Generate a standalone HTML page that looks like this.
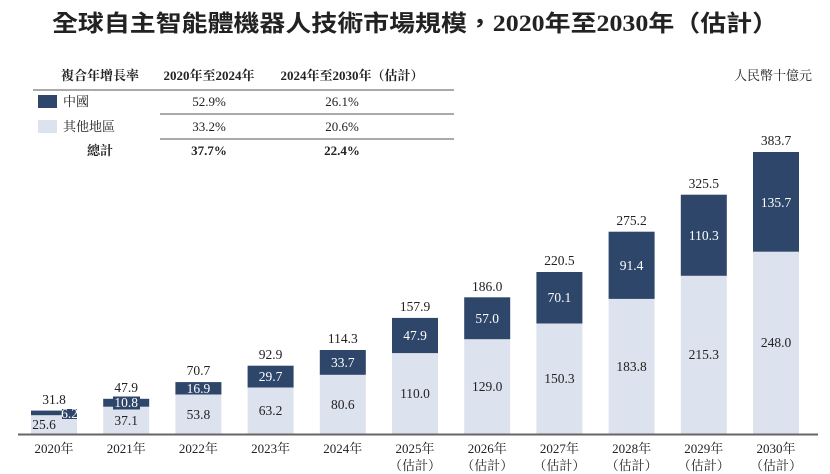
<!DOCTYPE html>
<html><head><meta charset="utf-8"><style>
body{margin:0;background:#fff;}
svg{display:block;font-family:"Liberation Serif","Noto Serif CJK SC","Noto Sans CJK TC",serif;}
</style></head><body>
<svg width="830" height="474" viewBox="0 0 830 474" xmlns="http://www.w3.org/2000/svg">
<text x="415" y="31" text-anchor="middle" font-size="23" font-weight="bold" fill="#222" textLength="726" lengthAdjust="spacingAndGlyphs" style="font-family:'Liberation Serif','Noto Sans CJK TC',sans-serif">全球自主智能體機器人技術市場規模，2020年至2030年（估計）</text>
<!-- table -->
<g font-size="13" fill="#222">
<text x="100" y="80" text-anchor="middle" font-weight="bold">複合年增長率</text>
<text x="209" y="80" text-anchor="middle" font-weight="bold">2020年至2024年</text>
<text x="352" y="80" text-anchor="middle" font-weight="bold">2024年至2030年（估計）</text>
<line x1="33" y1="90" x2="454" y2="90" stroke="#555" stroke-width="1"/>
<rect x="38" y="95" width="19" height="13" fill="#2f466b"/>
<text x="63" y="106">中國</text>
<text x="209" y="106" text-anchor="middle">52.9%</text>
<text x="342" y="106" text-anchor="middle">26.1%</text>
<line x1="160" y1="114" x2="454" y2="114" stroke="#555"/>
<rect x="38" y="120" width="19" height="13" fill="#dde3ee"/>
<text x="63" y="131">其他地區</text>
<text x="209" y="131" text-anchor="middle">33.2%</text>
<text x="342" y="131" text-anchor="middle">20.6%</text>
<line x1="160" y1="139" x2="454" y2="139" stroke="#555"/>
<text x="100" y="155" text-anchor="middle" font-weight="bold">總計</text>
<text x="209" y="155" text-anchor="middle" font-weight="bold">37.7%</text>
<text x="342" y="155" text-anchor="middle" font-weight="bold">22.4%</text>
<text x="812" y="80" text-anchor="end">人民幣十億元</text>
</g>
<!-- bars -->
<g fill="#dde3ee">
<rect x="31" y="415.2" width="46" height="18.8"/>
<rect x="103.2" y="406.7" width="46" height="27.3"/>
<rect x="175.4" y="394.5" width="46" height="39.5"/>
<rect x="247.6" y="387.5" width="46" height="46.5"/>
<rect x="319.8" y="374.8" width="46" height="59.2"/>
<rect x="392" y="353.1" width="46" height="80.9"/>
<rect x="464.2" y="339.2" width="46" height="94.8"/>
<rect x="536.4" y="323.5" width="46" height="110.5"/>
<rect x="608.6" y="298.9" width="46" height="135.1"/>
<rect x="680.8" y="275.8" width="46" height="158.2"/>
<rect x="753" y="251.7" width="46" height="182.3"/>
</g>
<g fill="#2f466b">
<rect x="31" y="410.6" width="46" height="4.6"/>
<rect x="62" y="409" width="15" height="10"/>
<rect x="103.2" y="398.8" width="46" height="7.9"/>
<rect x="113" y="396.5" width="27" height="13"/>
<rect x="175.4" y="382.1" width="46" height="12.4"/>
<rect x="247.6" y="365.7" width="46" height="21.8"/>
<rect x="319.8" y="350.0" width="46" height="24.8"/>
<rect x="392" y="317.9" width="46" height="35.2"/>
<rect x="464.2" y="297.3" width="46" height="41.9"/>
<rect x="536.4" y="272.0" width="46" height="51.5"/>
<rect x="608.6" y="231.7" width="46" height="67.2"/>
<rect x="680.8" y="194.7" width="46" height="81.1"/>
<rect x="753" y="152.0" width="46" height="99.7"/>
</g>
<line x1="18" y1="434.5" x2="818" y2="434.5" stroke="#666" stroke-width="2"/>
<g font-size="13.5" fill="#fff" text-anchor="middle">
<text x="69.5" y="418">6.2</text>
<text x="126.2" y="407">10.8</text>
<text x="198.4" y="393">16.9</text>
<text x="270.6" y="381">29.7</text>
<text x="342.8" y="367">33.7</text>
<text x="415" y="340">47.9</text>
<text x="487.2" y="323">57.0</text>
<text x="559.4" y="302">70.1</text>
<text x="631.6" y="270">91.4</text>
<text x="703.8" y="240">110.3</text>
<text x="776" y="207">135.7</text>
</g>
<g font-size="13.5" fill="#222" text-anchor="middle">
<text x="44" y="429">25.6</text>
<text x="126.2" y="425">37.1</text>
<text x="198.4" y="419">53.8</text>
<text x="270.6" y="415">63.2</text>
<text x="342.8" y="409">80.6</text>
<text x="415" y="398">110.0</text>
<text x="487.2" y="391">129.0</text>
<text x="559.4" y="383">150.3</text>
<text x="631.6" y="371">183.8</text>
<text x="703.8" y="359">215.3</text>
<text x="776" y="347">248.0</text>
<text x="54" y="404">31.8</text>
<text x="126.2" y="392">47.9</text>
<text x="198.4" y="375">70.7</text>
<text x="270.6" y="359">92.9</text>
<text x="342.8" y="343">114.3</text>
<text x="415" y="311">157.9</text>
<text x="487.2" y="291">186.0</text>
<text x="559.4" y="265">220.5</text>
<text x="631.6" y="225">275.2</text>
<text x="703.8" y="188">325.5</text>
<text x="776" y="145">383.7</text>
</g>
<g font-size="13" fill="#222" text-anchor="middle">
<text x="54" y="453">2020年</text>
<text x="126.2" y="453">2021年</text>
<text x="198.4" y="453">2022年</text>
<text x="270.6" y="453">2023年</text>
<text x="342.8" y="453">2024年</text>
<text x="415" y="453">2025年</text>
<text x="487.2" y="453">2026年</text>
<text x="559.4" y="453">2027年</text>
<text x="631.6" y="453">2028年</text>
<text x="703.8" y="453">2029年</text>
<text x="776" y="453">2030年</text>
<text x="415" y="470">（估計）</text>
<text x="487.2" y="470">（估計）</text>
<text x="559.4" y="470">（估計）</text>
<text x="631.6" y="470">（估計）</text>
<text x="703.8" y="470">（估計）</text>
<text x="776" y="470">（估計）</text>
</g>
</svg>
</body></html>
